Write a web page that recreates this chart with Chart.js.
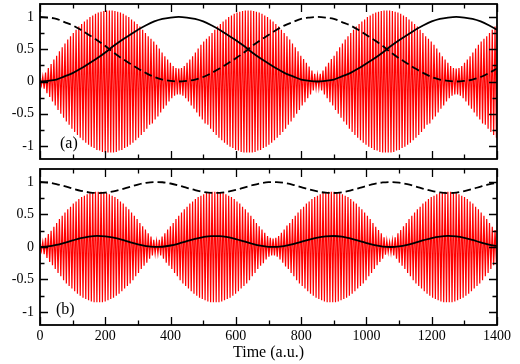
<!DOCTYPE html>
<html>
<head>
<meta charset="utf-8">
<script src="https://cdn.jsdelivr.net/npm/chart.js@4/dist/chart.umd.min.js"></script>
<style>
  html, body { margin: 0; padding: 0; background: #fff; }
  .box { position: absolute; left: 0; width: 520px; }
  canvas { display: block; }
</style>
</head>
<body>
<div class="box" style="top:0;height:164px"><canvas id="ca" width="520" height="164"></canvas></div>
<div class="box" style="top:164px;height:200px"><canvas id="cb" width="520" height="200"></canvas></div>
<script>
// ---------- data ----------
const xTickValues = [0, 200, 400, 600, 800, 1000, 1200, 1400];
const xTickLabels = ['0', '200', '400', '600', '800', '1000', '1200', '1400'];
const xMinorTicks = [100, 300, 500, 700, 900, 1100, 1300];
const yTickValues = [-1, -0.5, 0, 0.5, 1];
const yTickLabels = ['-1', '-0.5', '0', '0.5', '1'];
const yMinorTicks = [-0.75, -0.25, 0.25, 0.75];
const xLabel = 'Time (a.u.)';
const panelLabels = ['(a)', '(b)'];

// black curves sampled every 25 time units (0..1400)
const blackStep = 25;
const solidA = [0,0.01,0.03,0.08,0.13,0.2,0.28,0.36,0.45,0.55,0.64,0.72,0.8,0.87,0.93,0.97,0.99,1,
  0.99,0.97,0.93,0.87,0.8,0.72,0.64,0.55,0.45,0.36,0.28,0.2,0.13,0.08,0.03,0.01,0,
  0.01,0.03,0.08,0.13,0.2,0.28,0.36,0.45,0.55,0.64,0.72,0.8,0.87,0.93,0.97,0.99,1,
  0.99,0.97,0.93,0.87,0.8];
const dashedA = [1,0.99,0.97,0.92,0.87,0.8,0.72,0.64,0.55,0.45,0.36,0.28,0.2,0.13,0.07,0.03,0.01,0,
  0.01,0.03,0.07,0.13,0.2,0.28,0.36,0.45,0.55,0.64,0.72,0.8,0.87,0.92,0.97,0.99,1,
  0.99,0.97,0.92,0.87,0.8,0.72,0.64,0.55,0.45,0.36,0.28,0.2,0.13,0.07,0.03,0.01,0,
  0.01,0.03,0.07,0.13,0.2];
const solidB = [0,0.008,0.031,0.064,0.101,0.135,0.159,0.17,0.164,0.143,0.112,0.075,0.04,0.013,0.001,
  0.004,0.023,0.053,0.09,0.125,0.153,0.168,0.168,0.151,0.122,0.086,0.05,0.02,0.003,
  0.001,0.016,0.043,0.078,0.115,0.146,0.165,0.169,0.158,0.132,0.097,0.06,0.028,0.007,
  0,0.01,0.034,0.067,0.104,0.138,0.161,0.17,0.163,0.141,0.108,0.071,0.037,0.012];
const dashedB = [1,0.992,0.969,0.936,0.899,0.865,0.841,0.83,0.836,0.857,0.888,0.925,0.96,0.987,0.999,
  0.996,0.977,0.947,0.91,0.875,0.847,0.832,0.832,0.849,0.878,0.914,0.95,0.98,0.997,
  0.999,0.984,0.957,0.922,0.885,0.854,0.835,0.831,0.842,0.868,0.903,0.94,0.972,0.993,
  1,0.99,0.966,0.933,0.896,0.862,0.839,0.83,0.837,0.859,0.892,0.929,0.963,0.988];

// red fast oscillation: successive extrema, one every half period
const redStep = 4.25;
const redA = [
  0.05,-0.06,0.08,-0.11,0.14,-0.18,0.21,-0.24,0.27,-0.31,
  0.34,-0.37,0.40,-0.44,0.47,-0.50,0.53,-0.56,0.59,-0.62,
  0.65,-0.67,0.70,-0.73,0.75,-0.78,0.80,-0.83,0.85,-0.87,
  0.89,-0.91,0.93,-0.95,0.96,-0.98,1.00,-1.01,1.02,-1.03,
  1.05,-1.06,1.07,-1.07,1.08,-1.09,1.09,-1.10,1.10,-1.10,
  1.10,-1.10,1.10,-1.10,1.09,-1.09,1.08,-1.07,1.07,-1.06,
  1.05,-1.03,1.02,-1.01,1.00,-0.98,0.96,-0.95,0.93,-0.91,
  0.89,-0.87,0.85,-0.83,0.80,-0.78,0.75,-0.73,0.70,-0.67,
  0.66,-0.65,0.62,-0.59,0.57,-0.54,0.51,-0.48,0.45,-0.42,
  0.39,-0.37,0.34,-0.31,0.29,-0.26,0.24,-0.22,0.21,-0.20,
  0.20,-0.20,0.21,-0.22,0.24,-0.26,0.29,-0.31,0.34,-0.37,
  0.39,-0.42,0.45,-0.48,0.51,-0.54,0.57,-0.59,0.62,-0.65,
  0.66,-0.67,0.70,-0.73,0.75,-0.78,0.80,-0.83,0.85,-0.87,
  0.89,-0.91,0.93,-0.95,0.96,-0.98,1.00,-1.01,1.02,-1.03,
  1.05,-1.06,1.07,-1.07,1.08,-1.09,1.09,-1.10,1.10,-1.10,
  1.10,-1.10,1.10,-1.10,1.09,-1.09,1.08,-1.07,1.07,-1.06,
  1.05,-1.03,1.02,-1.01,1.00,-0.98,0.96,-0.95,0.93,-0.91,
  0.89,-0.87,0.85,-0.83,0.80,-0.78,0.75,-0.73,0.70,-0.67,
  0.65,-0.62,0.59,-0.56,0.53,-0.50,0.47,-0.44,0.40,-0.37,
  0.35,-0.32,0.29,-0.26,0.23,-0.20,0.17,-0.14,0.12,-0.10,
  0.10,-0.10,0.12,-0.14,0.17,-0.20,0.23,-0.26,0.29,-0.32,
  0.35,-0.37,0.40,-0.44,0.47,-0.50,0.53,-0.56,0.59,-0.62,
  0.65,-0.67,0.70,-0.73,0.75,-0.78,0.80,-0.83,0.85,-0.87,
  0.89,-0.91,0.93,-0.95,0.96,-0.98,1.00,-1.01,1.02,-1.03,
  1.05,-1.06,1.07,-1.07,1.08,-1.09,1.09,-1.10,1.10,-1.10,
  1.10,-1.10,1.10,-1.10,1.09,-1.09,1.08,-1.07,1.07,-1.06,
  1.05,-1.03,1.02,-1.01,1.00,-0.98,0.96,-0.95,0.93,-0.91,
  0.89,-0.87,0.85,-0.83,0.80,-0.78,0.75,-0.73,0.70,-0.67,
  0.66,-0.65,0.62,-0.59,0.57,-0.54,0.51,-0.48,0.45,-0.42,
  0.39,-0.37,0.34,-0.31,0.29,-0.26,0.24,-0.22,0.21,-0.20,
  0.20,-0.20,0.21,-0.22,0.24,-0.26,0.29,-0.31,0.34,-0.37,
  0.39,-0.42,0.45,-0.48,0.51,-0.54,0.57,-0.59,0.62,-0.65,
  0.66,-0.67,0.70,-0.73,0.75,-0.78,0.80,-0.83,0.85,-0.87,
  0.89];
const redB = [
  0.05,-0.06,0.08,-0.11,0.14,-0.17,0.20,-0.23,0.25,-0.28,
  0.31,-0.34,0.37,-0.40,0.43,-0.45,0.48,-0.51,0.53,-0.56,
  0.58,-0.60,0.62,-0.64,0.67,-0.68,0.70,-0.72,0.74,-0.75,
  0.77,-0.78,0.79,-0.80,0.81,-0.82,0.83,-0.84,0.84,-0.85,
  0.85,-0.85,0.85,-0.85,0.85,-0.85,0.84,-0.84,0.83,-0.82,
  0.81,-0.80,0.79,-0.78,0.77,-0.75,0.74,-0.72,0.70,-0.68,
  0.67,-0.64,0.62,-0.60,0.58,-0.56,0.53,-0.51,0.48,-0.45,
  0.43,-0.40,0.37,-0.34,0.32,-0.29,0.27,-0.24,0.21,-0.18,
  0.16,-0.13,0.11,-0.10,
  0.09,-0.10,0.11,-0.13,0.16,-0.18,0.21,-0.24,0.27,-0.29,
  0.32,-0.34,0.37,-0.40,0.43,-0.45,0.48,-0.51,0.53,-0.56,
  0.58,-0.60,0.62,-0.64,0.67,-0.68,0.70,-0.72,0.74,-0.75,
  0.77,-0.78,0.79,-0.80,0.81,-0.82,0.83,-0.84,0.84,-0.85,
  0.85,-0.85,0.85,-0.85,0.85,-0.85,0.84,-0.84,0.83,-0.82,
  0.81,-0.80,0.79,-0.78,0.77,-0.75,0.74,-0.72,0.70,-0.68,
  0.67,-0.64,0.62,-0.60,0.58,-0.56,0.53,-0.51,0.48,-0.45,
  0.43,-0.40,0.37,-0.34,0.32,-0.29,0.27,-0.25,0.22,-0.19,
  0.17,-0.15,0.14,-0.13,
  0.13,-0.13,0.14,-0.15,0.17,-0.19,0.22,-0.24,0.27,-0.30,
  0.33,-0.34,0.37,-0.40,0.43,-0.45,0.48,-0.51,0.53,-0.56,
  0.58,-0.60,0.62,-0.64,0.67,-0.68,0.70,-0.72,0.74,-0.75,
  0.77,-0.78,0.79,-0.80,0.81,-0.82,0.83,-0.84,0.84,-0.85,
  0.85,-0.85,0.85,-0.85,0.85,-0.85,0.84,-0.84,0.83,-0.82,
  0.81,-0.80,0.79,-0.78,0.77,-0.75,0.74,-0.72,0.70,-0.68,
  0.67,-0.64,0.62,-0.60,0.58,-0.56,0.53,-0.51,0.48,-0.45,
  0.43,-0.40,0.37,-0.34,0.31,-0.28,0.26,-0.23,0.21,-0.18,
  0.15,-0.12,0.10,-0.08,
  0.08,-0.09,0.10,-0.13,0.15,-0.18,0.21,-0.24,0.26,-0.29,
  0.32,-0.34,0.37,-0.40,0.43,-0.45,0.48,-0.51,0.53,-0.56,
  0.58,-0.60,0.62,-0.64,0.67,-0.68,0.70,-0.72,0.74,-0.75,
  0.77,-0.78,0.79,-0.80,0.81,-0.82,0.83,-0.84,0.84,-0.85,
  0.85,-0.85,0.85,-0.85,0.85,-0.85,0.84,-0.84,0.83,-0.82,
  0.81,-0.80,0.79,-0.78,0.77,-0.75,0.74,-0.72,0.70,-0.68,
  0.67,-0.64,0.62,-0.60,0.58,-0.56,0.53,-0.51,0.48,-0.45,
  0.43,-0.40,0.37,-0.34,0.31,-0.28,0.26,-0.24,0.21];

// ---------- chart building ----------
const FONT = "'Liberation Serif', serif";
const toXY = (vals, step) => vals.map((v, i) => ({ x: i * step, y: v }));

const framePlugin = {
  id: 'frame',
  afterDatasetsDraw(chart, args, opts) {
    const { ctx, chartArea: a } = chart;
    const xs = chart.scales.x, ys = chart.scales.y;
    ctx.save();
    ctx.strokeStyle = '#000';
    ctx.lineWidth = 1.3;
    ctx.beginPath();
    const vt = (v, len) => {
      const px = Math.round(xs.getPixelForValue(v)) + 0.5;
      ctx.moveTo(px, a.bottom); ctx.lineTo(px, a.bottom - len);
      ctx.moveTo(px, a.top); ctx.lineTo(px, a.top + len);
    };
    const ht = (v, len) => {
      const py = Math.round(ys.getPixelForValue(v)) + 0.5;
      ctx.moveTo(a.left, py); ctx.lineTo(a.left + len, py);
      ctx.moveTo(a.right, py); ctx.lineTo(a.right - len, py);
    };
    xTickValues.forEach(v => vt(v, 8));
    xMinorTicks.forEach(v => vt(v, 4.5));
    yTickValues.forEach(v => ht(v, 8));
    yMinorTicks.forEach(v => ht(v, 4.5));
    ctx.stroke();
    ctx.lineWidth = 1.8;
    ctx.strokeRect(a.left, a.top, a.right - a.left, a.bottom - a.top);
    ctx.fillStyle = '#000';
    ctx.font = '16px ' + FONT;
    ctx.textAlign = 'left';
    ctx.textBaseline = 'middle';
    ctx.fillText(opts.label, a.left + opts.dx, a.bottom - opts.dy);
    ctx.restore();
  }
};

function makeChart(id, solid, dashed, red, label, showX, pad, dx) {
  const xScale = {
    type: 'linear', min: 0, max: 1400,
    display: showX,
    grid: { display: false, drawTicks: false },
    border: { display: false },
    afterBuildTicks: s => { s.ticks = xTickValues.map(v => ({ value: v })); },
    ticks: {
      autoSkip: false, maxRotation: 0, padding: 3, color: '#000',
      font: { family: FONT, size: 14 },
      callback: (v, i) => xTickLabels[i]
    },
    title: {
      display: showX, text: xLabel, color: '#000',
      font: { family: FONT, size: 16 }, padding: { top: 0, bottom: 2 }
    },
    afterFit: s => {
      if (showX) { s.height = 39; }
      s.paddingLeft = 0; s.paddingRight = 0;
    }
  };
  return new Chart(document.getElementById(id), {
    type: 'line',
    data: {
      datasets: [
        { data: toXY(solid, blackStep), borderColor: '#000', borderWidth: 1.8,
          pointRadius: 0, cubicInterpolationMode: 'monotone' },
        { data: toXY(dashed, blackStep), borderColor: '#000', borderWidth: 1.8,
          borderDash: [8, 4], pointRadius: 0, cubicInterpolationMode: 'monotone' },
        { data: toXY(red, redStep), borderColor: '#ff0000', borderWidth: 1.2,
          pointRadius: 0, tension: 0 }
      ]
    },
    options: {
      responsive: false, animation: false, devicePixelRatio: 1, events: [],
      layout: { padding: pad },
      plugins: { legend: { display: false }, tooltip: { enabled: false },
                 frame: { label: label, dx: dx, dy: 15 } },
      scales: {
        x: xScale,
        y: {
          type: 'linear', min: -1.2, max: 1.2,
          grid: { display: false, drawTicks: false },
          border: { display: false },
          afterBuildTicks: s => { s.ticks = yTickValues.map(v => ({ value: v })); },
          ticks: {
            padding: 6, color: '#000', font: { family: FONT, size: 14 },
            callback: (v, i) => yTickLabels[i]
          },
          afterFit: s => { s.width = 40; s.paddingTop = 0; s.paddingBottom = 0; }
        }
      }
    },
    plugins: [framePlugin]
  });
}

makeChart('ca', solidA, dashedA, redA, panelLabels[0], false,
          { top: 4, right: 23, bottom: 5, left: 0 }, 20);
makeChart('cb', solidB, dashedB, redB, panelLabels[1], true,
          { top: 5, right: 23, bottom: 0, left: 0 }, 16);
</script>
</body>
</html>
